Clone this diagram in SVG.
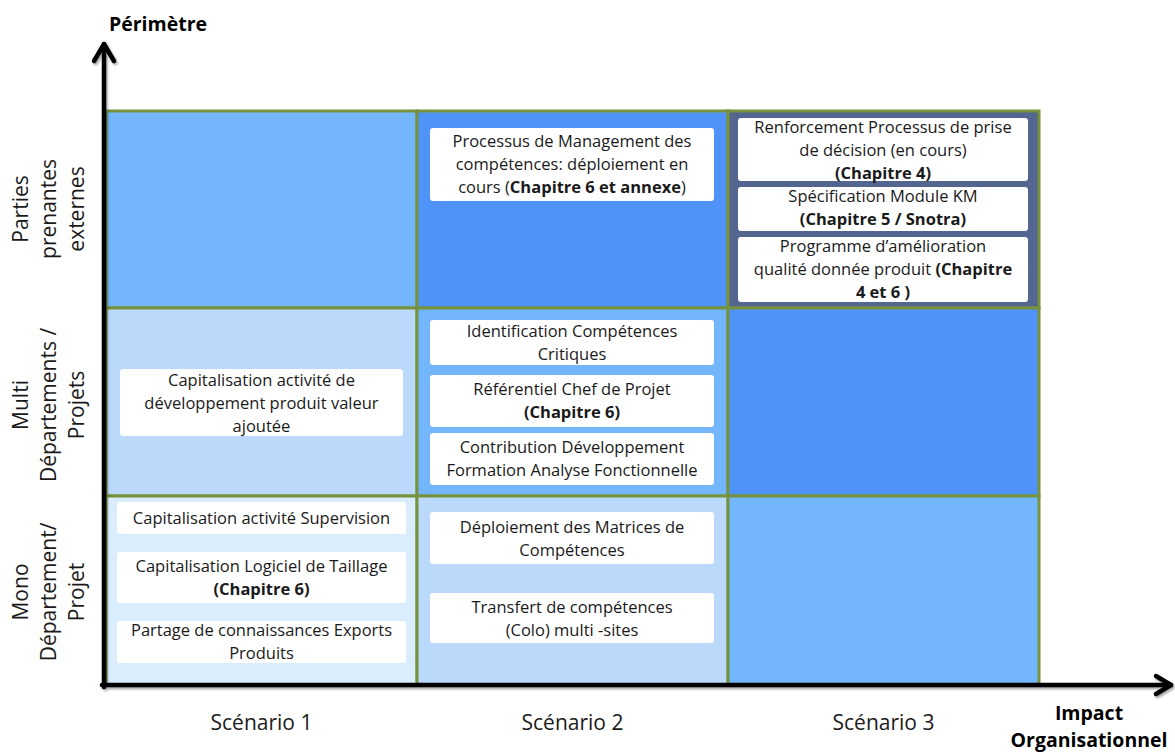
<svg xmlns="http://www.w3.org/2000/svg" width="1175" height="752" viewBox="0 0 1175 752">
<defs>
<style>
.cell{stroke:#76923C;stroke-width:3}
.l{fill:#73B6FB}.m{fill:#4F93F8}.d{fill:#52668F}.p{fill:#BBDAFB}.v{fill:#DAEDFC}
.box{fill:#FFFFFF}
text{font-family:"Open Sans","DejaVu Sans",sans-serif;fill:#1a1a1a;text-anchor:middle}
.t{font-size:16.5px}
.b{font-weight:bold}
.lab{font-size:21px}
.ttl{font-size:19.5px;font-weight:bold;fill:#000}
.ax{fill:none;stroke:#000;stroke-width:4.5;stroke-linecap:round;stroke-linejoin:round}
</style>
<filter id="sh" x="-5%" y="-5%" width="110%" height="110%">
<feDropShadow dx="1.5" dy="2" stdDeviation="1.2" flood-color="#000" flood-opacity="0.35"/>
</filter>
</defs>
<rect width="1175" height="752" fill="#FFFFFF"/>
<g id="grid">
<rect class="cell l" x="106" y="111" width="311" height="197"/>
<rect class="cell m" x="417" y="111" width="311" height="197"/>
<rect class="cell d" x="728" y="111" width="311" height="197"/>
<rect class="cell p" x="106" y="308" width="311" height="188"/>
<rect class="cell l" x="417" y="308" width="311" height="188"/>
<rect class="cell m" x="728" y="308" width="311" height="188"/>
<rect class="cell v" x="106" y="496" width="311" height="189"/>
<rect class="cell p" x="417" y="496" width="311" height="189"/>
<rect class="cell l" x="728" y="496" width="311" height="189"/>
</g>
<g id="connectors">
<g filter="url(#sh)">
<path class="ax" d="M104,687 L104,44"/>
<path class="ax" d="M94,61 L104,44 L114,61"/>
<path class="ax" d="M102,685 L1171,685"/>
<path class="ax" d="M1156,676 L1171,685 L1156,694"/>
</g>
</g>
<g id="axis-labels">
<text class="ttl" x="158" y="31">Périmètre</text>
<text class="ttl" x="1089" y="720">Impact</text>
<text class="ttl" x="1089" y="747">Organisationnel</text>
<text class="lab" x="261.5" y="730">Scénario 1</text>
<text class="lab" x="572.5" y="730">Scénario 2</text>
<text class="lab" x="883.5" y="730">Scénario 3</text>
</g>
<g id="row-parties" transform="translate(0,209) rotate(-90)">
<text class="lab" x="0" y="28">Parties</text>
<text class="lab" x="0" y="56">prenantes</text>
<text class="lab" x="0" y="84">externes</text>
</g>
<g id="row-multi" transform="translate(0,405) rotate(-90)">
<text class="lab" x="0" y="28">Multi</text>
<text class="lab" x="0" y="56">Départements /</text>
<text class="lab" x="0" y="84">Projets</text>
</g>
<g id="row-mono" transform="translate(0,592) rotate(-90)">
<text class="lab" x="0" y="28">Mono</text>
<text class="lab" x="0" y="56">Département/</text>
<text class="lab" x="0" y="84">Projet</text>
</g>
<g id="n-processus">
<rect class="box" x="430" y="128" width="284" height="73" rx="3"/>
<text class="t" x="572" y="147">Processus de Management des</text>
<text class="t" x="572" y="170">compétences: déploiement en</text>
<text class="t" x="572" y="193">cours (<tspan class="b">Chapitre 6 et annexe</tspan>)</text>
</g>
<g id="n-renforcement">
<rect class="box" x="738" y="118" width="290" height="63" rx="3"/>
<text class="t" x="883" y="133">Renforcement Processus de prise</text>
<text class="t" x="883" y="156">de décision (en cours)</text>
<text class="t b" x="883" y="179">(Chapitre 4)</text>
</g>
<g id="n-specification">
<rect class="box" x="738" y="187" width="290" height="44" rx="3"/>
<text class="t" x="883" y="202">Spécification Module KM</text>
<text class="t b" x="883" y="225">(Chapitre 5 / Snotra)</text>
</g>
<g id="n-programme">
<rect class="box" x="738" y="237" width="290" height="65" rx="3"/>
<text class="t" x="883" y="252">Programme d’amélioration</text>
<text class="t" x="883" y="275">qualité donnée produit <tspan class="b">(Chapitre</tspan></text>
<text class="t b" x="883" y="298">4 et 6 )</text>
</g>
<g id="n-capitalisation-dev">
<rect class="box" x="120" y="369" width="283" height="67" rx="3"/>
<text class="t" x="261.5" y="386">Capitalisation activité de</text>
<text class="t" x="261.5" y="409">développement produit valeur</text>
<text class="t" x="261.5" y="432">ajoutée</text>
</g>
<g id="n-identification">
<rect class="box" x="430" y="320" width="284" height="45" rx="3"/>
<text class="t" x="572" y="337">Identification Compétences</text>
<text class="t" x="572" y="360">Critiques</text>
</g>
<g id="n-referentiel">
<rect class="box" x="430" y="375" width="284" height="52" rx="3"/>
<text class="t" x="572" y="395">Référentiel Chef de Projet</text>
<text class="t b" x="572" y="418">(Chapitre 6)</text>
</g>
<g id="n-contribution">
<rect class="box" x="430" y="433" width="284" height="52" rx="3"/>
<text class="t" x="572" y="453">Contribution Développement</text>
<text class="t" x="572" y="476">Formation Analyse Fonctionnelle</text>
</g>
<g id="n-supervision">
<rect class="box" x="117" y="502" width="289" height="32" rx="3"/>
<text class="t" x="261.5" y="524">Capitalisation activité Supervision</text>
</g>
<g id="n-taillage">
<rect class="box" x="117" y="552" width="289" height="51" rx="3"/>
<text class="t" x="261.5" y="572">Capitalisation Logiciel de Taillage</text>
<text class="t b" x="261.5" y="595">(Chapitre 6)</text>
</g>
<g id="n-partage">
<rect class="box" x="117" y="621" width="289" height="42" rx="3"/>
<text class="t" x="261.5" y="636">Partage de connaissances Exports</text>
<text class="t" x="261.5" y="659">Produits</text>
</g>
<g id="n-deploiement">
<rect class="box" x="430" y="512" width="284" height="52" rx="3"/>
<text class="t" x="572" y="533">Déploiement des Matrices de</text>
<text class="t" x="572" y="556">Compétences</text>
</g>
<g id="n-transfert">
<rect class="box" x="430" y="593" width="284" height="50" rx="3"/>
<text class="t" x="572" y="613">Transfert de compétences</text>
<text class="t" x="572" y="636">(Colo) multi -sites</text>
</g>
</svg>
